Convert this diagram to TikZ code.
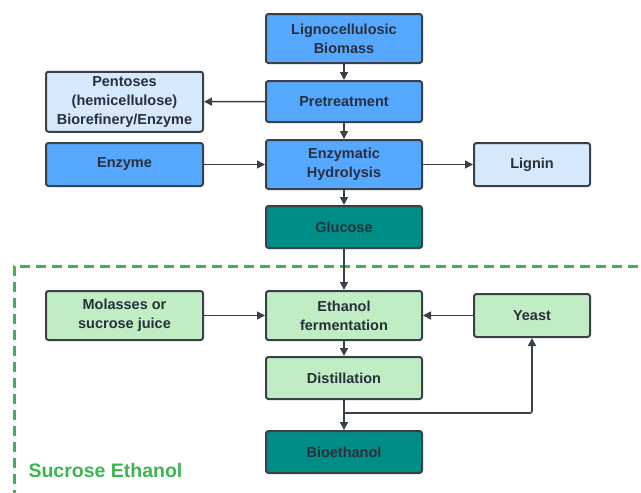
\documentclass[tikz,border=0pt]{standalone}
\usepackage{fontspec}
\setmainfont{Liberation Sans}
\usetikzlibrary{arrows.meta}
\definecolor{bluefill}{RGB}{86,168,255}
\definecolor{paleblue}{RGB}{214,232,252}
\definecolor{tealfill}{RGB}{0,140,135}
\definecolor{palegreen}{RGB}{192,237,196}
\definecolor{edge}{RGB}{58,64,74}
\definecolor{ink}{RGB}{40,48,60}
\definecolor{zonegreen}{RGB}{60,182,80}
\tikzset{
  box/.style={draw=edge, line width=2pt, rounded corners=2.5pt, align=center,
    font=\bfseries\fontsize{14.5}{19}\selectfont, text=ink, inner sep=0pt},
  wide/.style={box, minimum width=156pt},
  narrow/.style={box, minimum width=116pt},
  main/.style={fill=bluefill},
  side/.style={fill=paleblue},
  product/.style={fill=tealfill},
  sugar/.style={fill=palegreen},
  flow/.style={draw=edge, line width=1.6pt, -{Triangle[length=8pt,width=8pt]}},
  zone/.style={draw=zonegreen, line width=3pt, dash pattern=on 10pt off 6pt}
}
\begin{document}
\begin{tikzpicture}[x=1pt,y=-1pt]
\useasboundingbox (0,0) rectangle (641,493);
\fill[white] (0,0) rectangle (641,493);

% sucrose ethanol zone boundary
\draw[zone] (14,500) -- (14,266) -- (650,266);
\node[text=zonegreen, font=\bfseries\fontsize{19.5}{22}\selectfont, anchor=west] (zonelabel) at (25,471) {Sucrose Ethanol};

% lignocellulosic route
\node[wide, main, minimum height=49pt] (bio) at (344,38.5) {Lignocellulosic\\Biomass};
\node[wide, main, minimum height=41pt] (pre) at (344,101.5) {Pretreatment};
\node[wide, side, minimum height=60pt, minimum width=157pt] (pent) at (124.5,101.75) {Pentoses\\(hemicellulose)\\Biorefinery/Enzyme};
\node[wide, main, minimum height=49pt] (hyd) at (344,164.5) {Enzymatic\\Hydrolysis};
\node[wide, main, minimum height=43pt, minimum width=157pt] (enz) at (124.5,164.5) {Enzyme};
\node[narrow, side, minimum height=43pt] (lig) at (532,164.5) {Lignin};
\node[wide, product, minimum height=42pt] (glu) at (344,227) {Glucose};

% fermentation route
\node[wide, sugar, minimum height=49pt] (ferm) at (344,315.5) {Ethanol\\fermentation};
\node[wide, sugar, minimum height=49pt, minimum width=157pt] (mol) at (124.5,315.5) {Molasses or\\sucrose juice};
\node[narrow, sugar, minimum height=43pt] (yeast) at (532,315.5) {Yeast};
\node[wide, sugar, minimum height=42pt] (dist) at (344,378) {Distillation};
\node[wide, product, minimum height=42pt] (bioeth) at (344,452) {Bioethanol};
\coordinate (split) at (344,413);

% connectors
\draw[flow] (bio) -- (pre);
\draw[flow] (pre) -- (pent);
\draw[flow] (pre) -- (hyd);
\draw[flow] (enz) -- (hyd);
\draw[flow] (hyd) -- (lig);
\draw[flow] (hyd) -- (glu);
\draw[flow] (glu) -- (ferm);
\draw[flow] (mol) -- (ferm);
\draw[flow] (yeast) -- (ferm);
\draw[flow] (ferm) -- (dist);
\draw[flow] (dist) -- (bioeth);
\draw[flow, rounded corners=2pt] (split) -| (yeast);
\end{tikzpicture}
\end{document}
